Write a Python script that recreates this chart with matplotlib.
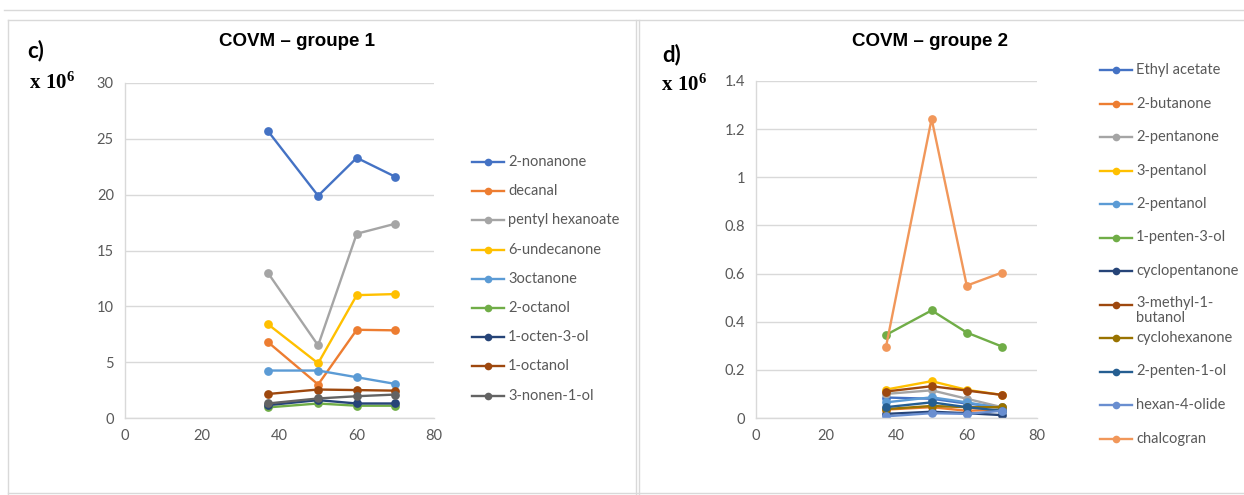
import matplotlib
matplotlib.use("Agg")
import matplotlib.pyplot as plt
from matplotlib.lines import Line2D

W, H = 1244, 495

plt.rcParams["mathtext.fontset"] = "custom"
plt.rcParams["mathtext.rm"] = "Liberation Serif:bold"
plt.rcParams["mathtext.bf"] = "Liberation Serif:bold"
plt.rcParams["mathtext.it"] = "Liberation Serif:bold"

# Sampling temperatures (x axis)
temps = [37, 50, 60, 70]

# --- Group 1 compounds (x 10^6) ---
g1_labels = ["2-nonanone", "decanal", "pentyl hexanoate", "6-undecanone",
             "3octanone", "2-octanol", "1-octen-3-ol", "1-octanol", "3-nonen-1-ol"]
nonanone_2 = [25.7, 19.9, 23.3, 21.6]
decanal = [6.8, 3.0, 7.9, 7.85]
pentyl_hexanoate = [13.0, 6.5, 16.5, 17.4]
undecanone_6 = [8.4, 4.9, 11.0, 11.1]
octanone_3 = [4.25, 4.25, 3.65, 3.05]
octanol_2 = [0.95, 1.3, 1.1, 1.1]
octen_3_ol = [1.15, 1.6, 1.3, 1.3]
octanol_1 = [2.15, 2.55, 2.5, 2.45]
nonen_1_ol = [1.3, 1.75, 1.95, 2.1]
g1_colors = ["#4472C4", "#ED7D31", "#A5A5A5", "#FFC000", "#5B9BD5",
             "#70AD47", "#264478", "#9E480E", "#636363"]

# --- Group 2 compounds (x 10^6) ---
g2_labels = ["Ethyl acetate", "2-butanone", "2-pentanone", "3-pentanol",
             "2-pentanol", "1-penten-3-ol", "cyclopentanone", "3-methyl-1-\nbutanol",
             "cyclohexanone", "2-penten-1-ol", "hexan-4-olide", "chalcogran"]
ethyl_acetate = [0.085, 0.08, 0.06, 0.045]
butanone_2 = [0.035, 0.045, 0.03, 0.035]
pentanone_2 = [0.10, 0.115, 0.08, 0.045]
pentanol_3 = [0.118, 0.153, 0.117, 0.096]
pentanol_2 = [0.065, 0.086, 0.065, 0.04]
penten_3_ol = [0.345, 0.447, 0.355, 0.297]
cyclopentanone = [0.017, 0.026, 0.02, 0.012]
methyl_butanol = [0.11, 0.132, 0.114, 0.096]
cyclohexanone = [0.037, 0.05, 0.045, 0.045]
penten_1_ol = [0.045, 0.065, 0.045, 0.03]
hexan_4_olide = [0.007, 0.02, 0.017, 0.03]
chalcogran = [0.295, 1.243, 0.55, 0.604]
g2_colors = ["#4472C4", "#ED7D31", "#A5A5A5", "#FFC000", "#5B9BD5", "#70AD47",
             "#264478", "#9E480E", "#997300", "#255E91", "#698ED0", "#F1975A"]

g1_series = [nonanone_2, decanal, pentyl_hexanoate, undecanone_6, octanone_3,
             octanol_2, octen_3_ol, octanol_1, nonen_1_ol]
g2_series = [ethyl_acetate, butanone_2, pentanone_2, pentanol_3, pentanol_2,
             penten_3_ol, cyclopentanone, methyl_butanol, cyclohexanone,
             penten_1_ol, hexan_4_olide, chalcogran]

TICK_COLOR = "#595959"
GRID_COLOR = "#D9D9D9"
SANS = ["Lato", "DejaVu Sans"]
TITLE_FONT = ["Liberation Sans", "DejaVu Sans"]

fig = plt.figure(figsize=(W / 100, H / 100), dpi=100)
fig.patch.set_facecolor("white")


def fx(px):
    return px / W


def fy(py):
    return 1 - py / H


def box(x0, y0, x1, y1):
    return (fx(x0), fy(y1), fx(x1) - fx(x0), fy(y0) - fy(y1))


def style_axes(ax, ymax, ystep, yfmt):
    ax.set_xlim(0, 80)
    ax.set_ylim(0, ymax)
    ax.set_xticks(range(0, 81, 20))
    n = int(round(ymax / ystep))
    yt = [i * ystep for i in range(n + 1)]
    ax.set_yticks(yt)
    ax.set_yticklabels([yfmt(v) for v in yt])
    ax.grid(axis="y", color=GRID_COLOR, linewidth=1.0)
    ax.set_axisbelow(True)
    for s in ("top", "right"):
        ax.spines[s].set_visible(False)
    for s in ("left", "bottom"):
        ax.spines[s].set_color(GRID_COLOR)
        ax.spines[s].set_linewidth(1.0)
    ax.tick_params(length=0, labelcolor=TICK_COLOR, labelsize=10.5, pad=8)
    for lab in ax.get_xticklabels() + ax.get_yticklabels():
        lab.set_family(SANS)


def draw_series(ax, series, colors):
    for vals, c in zip(series, colors):
        ax.plot(temps, vals, color=c, linewidth=1.7, marker="o",
                markersize=6.3, markeredgewidth=0, solid_capstyle="round")


def draw_legend(labels, colors, x0, y_first, dy):
    for i, (lab, c) in enumerate(zip(labels, colors)):
        py = y_first + i * dy
        y = fy(py)
        fig.add_artist(Line2D([fx(x0), fx(x0 + 32)], [y, y], color=c,
                              linewidth=1.7, transform=fig.transFigure))
        fig.add_artist(Line2D([fx(x0 + 16)], [y], color=c, marker="o",
                              markersize=5.5, markeredgewidth=0,
                              transform=fig.transFigure))
        if "\n" in lab:
            fig.text(fx(x0 + 36), fy(py - 8), lab, ha="left", va="top",
                     fontsize=10.5, color=TICK_COLOR, family=SANS, linespacing=1.05)
        else:
            fig.text(fx(x0 + 36), y, lab, ha="left", va="center",
                     fontsize=10.5, color=TICK_COLOR, family=SANS)


# Panel frames
frame_kw = dict(color="#D9D9D9", linewidth=1.0, transform=fig.transFigure)
fig.add_artist(Line2D([fx(4), fx(1244)], [fy(10), fy(10)], **frame_kw))
fig.add_artist(Line2D([fx(8), fx(8)], [fy(20), fy(495)], **frame_kw))
fig.add_artist(Line2D([fx(8), fx(1244)], [fy(20), fy(20)], **frame_kw))
fig.add_artist(Line2D([fx(636), fx(636)], [fy(20), fy(495)], **frame_kw))
fig.add_artist(Line2D([fx(639), fx(639)], [fy(20), fy(495)], **frame_kw))
fig.add_artist(Line2D([fx(8), fx(1244)], [fy(493), fy(493)], **frame_kw))

# Left panel: group 1
ax1 = fig.add_axes(box(125, 83, 434, 418))
draw_series(ax1, g1_series, g1_colors)
style_axes(ax1, 30, 5, lambda v: f"{int(v)}")
draw_legend(g1_labels, g1_colors, 472, 162, 29.2)

fig.text(fx(297), fy(42), "COVM – groupe 1", ha="center", va="center",
         fontsize=13.5, fontweight="bold", family=TITLE_FONT)
fig.text(fx(27), fy(51), "c)", ha="left", va="center", fontsize=16,
         fontweight="bold", family=SANS)
fig.text(fx(29), fy(82), r"$\mathbf{x\ 10^{6}}$", ha="left", va="center",
         fontsize=15)

# Right panel: group 2
ax2 = fig.add_axes(box(756, 81, 1037, 418))


def fmt2(v):
    if abs(v) < 1e-9:
        return "0"
    if abs(v - round(v)) < 1e-9:
        return f"{int(round(v))}"
    return f"{v:.1f}"


draw_series(ax2, g2_series, g2_colors)
style_axes(ax2, 1.4, 0.2, fmt2)
draw_legend(g2_labels, g2_colors, 1100, 70, 33.5)

fig.text(fx(930), fy(42), "COVM – groupe 2", ha="center", va="center",
         fontsize=13.5, fontweight="bold", family=TITLE_FONT)
fig.text(fx(662), fy(55), "d)", ha="left", va="center", fontsize=16,
         fontweight="bold", family=SANS)
fig.text(fx(661), fy(84), r"$\mathbf{x\ 10^{6}}$", ha="left", va="center",
         fontsize=15)

fig.savefig("out.png", dpi=100, facecolor="white")
